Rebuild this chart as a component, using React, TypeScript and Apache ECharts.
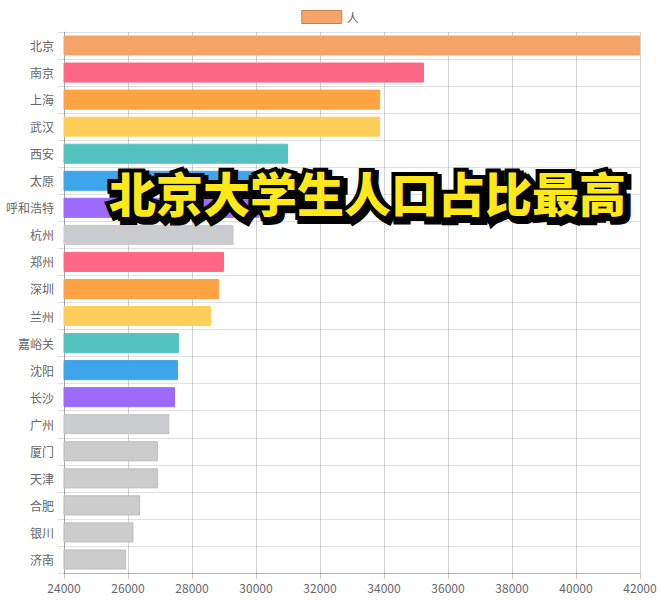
import React, { useEffect, useRef } from "react";
import * as echarts from "echarts";

const cities = ["北京", "南京", "上海", "武汉", "西安", "太原", "呼和浩特", "杭州", "郑州", "深圳", "兰州", "嘉峪关", "沈阳", "长沙", "广州", "厦门", "天津", "合肥", "银川", "济南"];
const values = [42000, 35250, 33880, 33880, 31000, 30500, 30100, 29300, 29000, 28850, 28600, 27600, 27560, 27470, 27290, 26940, 26940, 26380, 26170, 25940];
const barColors = ["#F3A466", "#FF6787", "#FFA343", "#FFCE5A", "#55C2C2", "#3DA5EA", "#9C6AFF", "#CACBCF", "#FF6787", "#FFA343", "#FFCE5A", "#55C2C2", "#3DA5EA", "#9C6AFF", "#CACBCF", "#CCCCCC", "#CCCCCC", "#CCCCCC", "#CCCCCC", "#CCCCCC"];
const borderColors = ["#F3A466", "#FF6787", "#FFA343", "#FFCE5A", "#55C2C2", "#3DA5EA", "#9C6AFF", "#CACBCF", "#FF6787", "#FFA343", "#FFCE5A", "#55C2C2", "#3DA5EA", "#9C6AFF", "#C0C0C0", "#BBBBBB", "#BBBBBB", "#BBBBBB", "#BBBBBB", "#BBBBBB"];
const xTicks = { min: 24000, max: 42000, interval: 2000 };
const seriesName = "人";
const headline = "北京大学生人口占比最高";

export default function App() {
  const ref = useRef<HTMLDivElement>(null);
  useEffect(() => {
    const chart = echarts.init(ref.current!, null, { renderer: "svg" });
    const font = '"Noto Sans CJK SC", "Noto Sans", sans-serif';
    const hfont = `900 47px ${font}`;
    chart.setOption({
      animation: false,
      backgroundColor: "#ffffff",
      textStyle: { fontFamily: font },
      legend: {
        top: 5,
        left: "center",
        icon: "rect",
        itemWidth: 40,
        itemHeight: 13,
        itemGap: 8,
        textStyle: { color: "#666", fontSize: 12, fontFamily: font },
        data: [{ name: seriesName, itemStyle: { color: "#F3A466", borderColor: "#C98550", borderWidth: 1 } }],
      },
      grid: { left: 64, right: 20, top: 32, bottom: 28, containLabel: false },
      xAxis: {
        type: "value",
        min: xTicks.min,
        max: xTicks.max,
        interval: xTicks.interval,
        axisLine: { show: true, lineStyle: { color: "rgba(0,0,0,0.2)" } },
        axisTick: { show: true, length: 6, lineStyle: { color: "rgba(0,0,0,0.2)" } },
        axisLabel: { color: "#666", fontSize: 12, margin: 8, fontFamily: font, formatter: (v: number) => String(v) },
        splitLine: { show: true, lineStyle: { color: "rgba(0,0,0,0.18)" } },
      },
      yAxis: {
        type: "category",
        data: cities,
        inverse: true,
        axisLine: { show: true, lineStyle: { color: "rgba(0,0,0,0.2)" } },
        axisTick: { show: true, length: 6, lineStyle: { color: "rgba(0,0,0,0.12)" } },
        axisLabel: { color: "#666", fontSize: 12, margin: 10, fontFamily: font },
        splitLine: { show: true, lineStyle: { color: "rgba(0,0,0,0.12)" } },
      },
      series: [
        {
          name: seriesName,
          type: "bar",
          barCategoryGap: "26%",
          itemStyle: { color: "#F3A466" },
          data: values.map((v, i) => ({
            value: v,
            itemStyle: { color: barColors[i], borderColor: borderColors[i], borderWidth: 1 },
          })),
        },
      ],
      graphic: [
        {
          type: "group",
          left: 105,
          top: 164,
          z: 100,
          children: [
            {
              type: "text",
              x: 3,
              y: 3,
              z: 100,
              style: { text: headline, font: hfont, fill: "#000", stroke: "#000", lineWidth: 10, lineJoin: "round" },
            },
            {
              type: "text",
              x: 0,
              y: 0,
              z: 101,
              style: { text: headline, font: hfont, fill: "#000", stroke: "#000", lineWidth: 8, lineJoin: "round" },
            },
            {
              type: "text",
              x: 0,
              y: 0,
              z: 102,
              style: { text: headline, font: hfont, fill: "#FFE81A" },
            },
          ],
        },
      ],
    });
    return () => chart.dispose();
  }, []);
  return <div ref={ref} style={{ width: 660, height: 601, position: "absolute", left: 0, top: 0 }} />;
}
